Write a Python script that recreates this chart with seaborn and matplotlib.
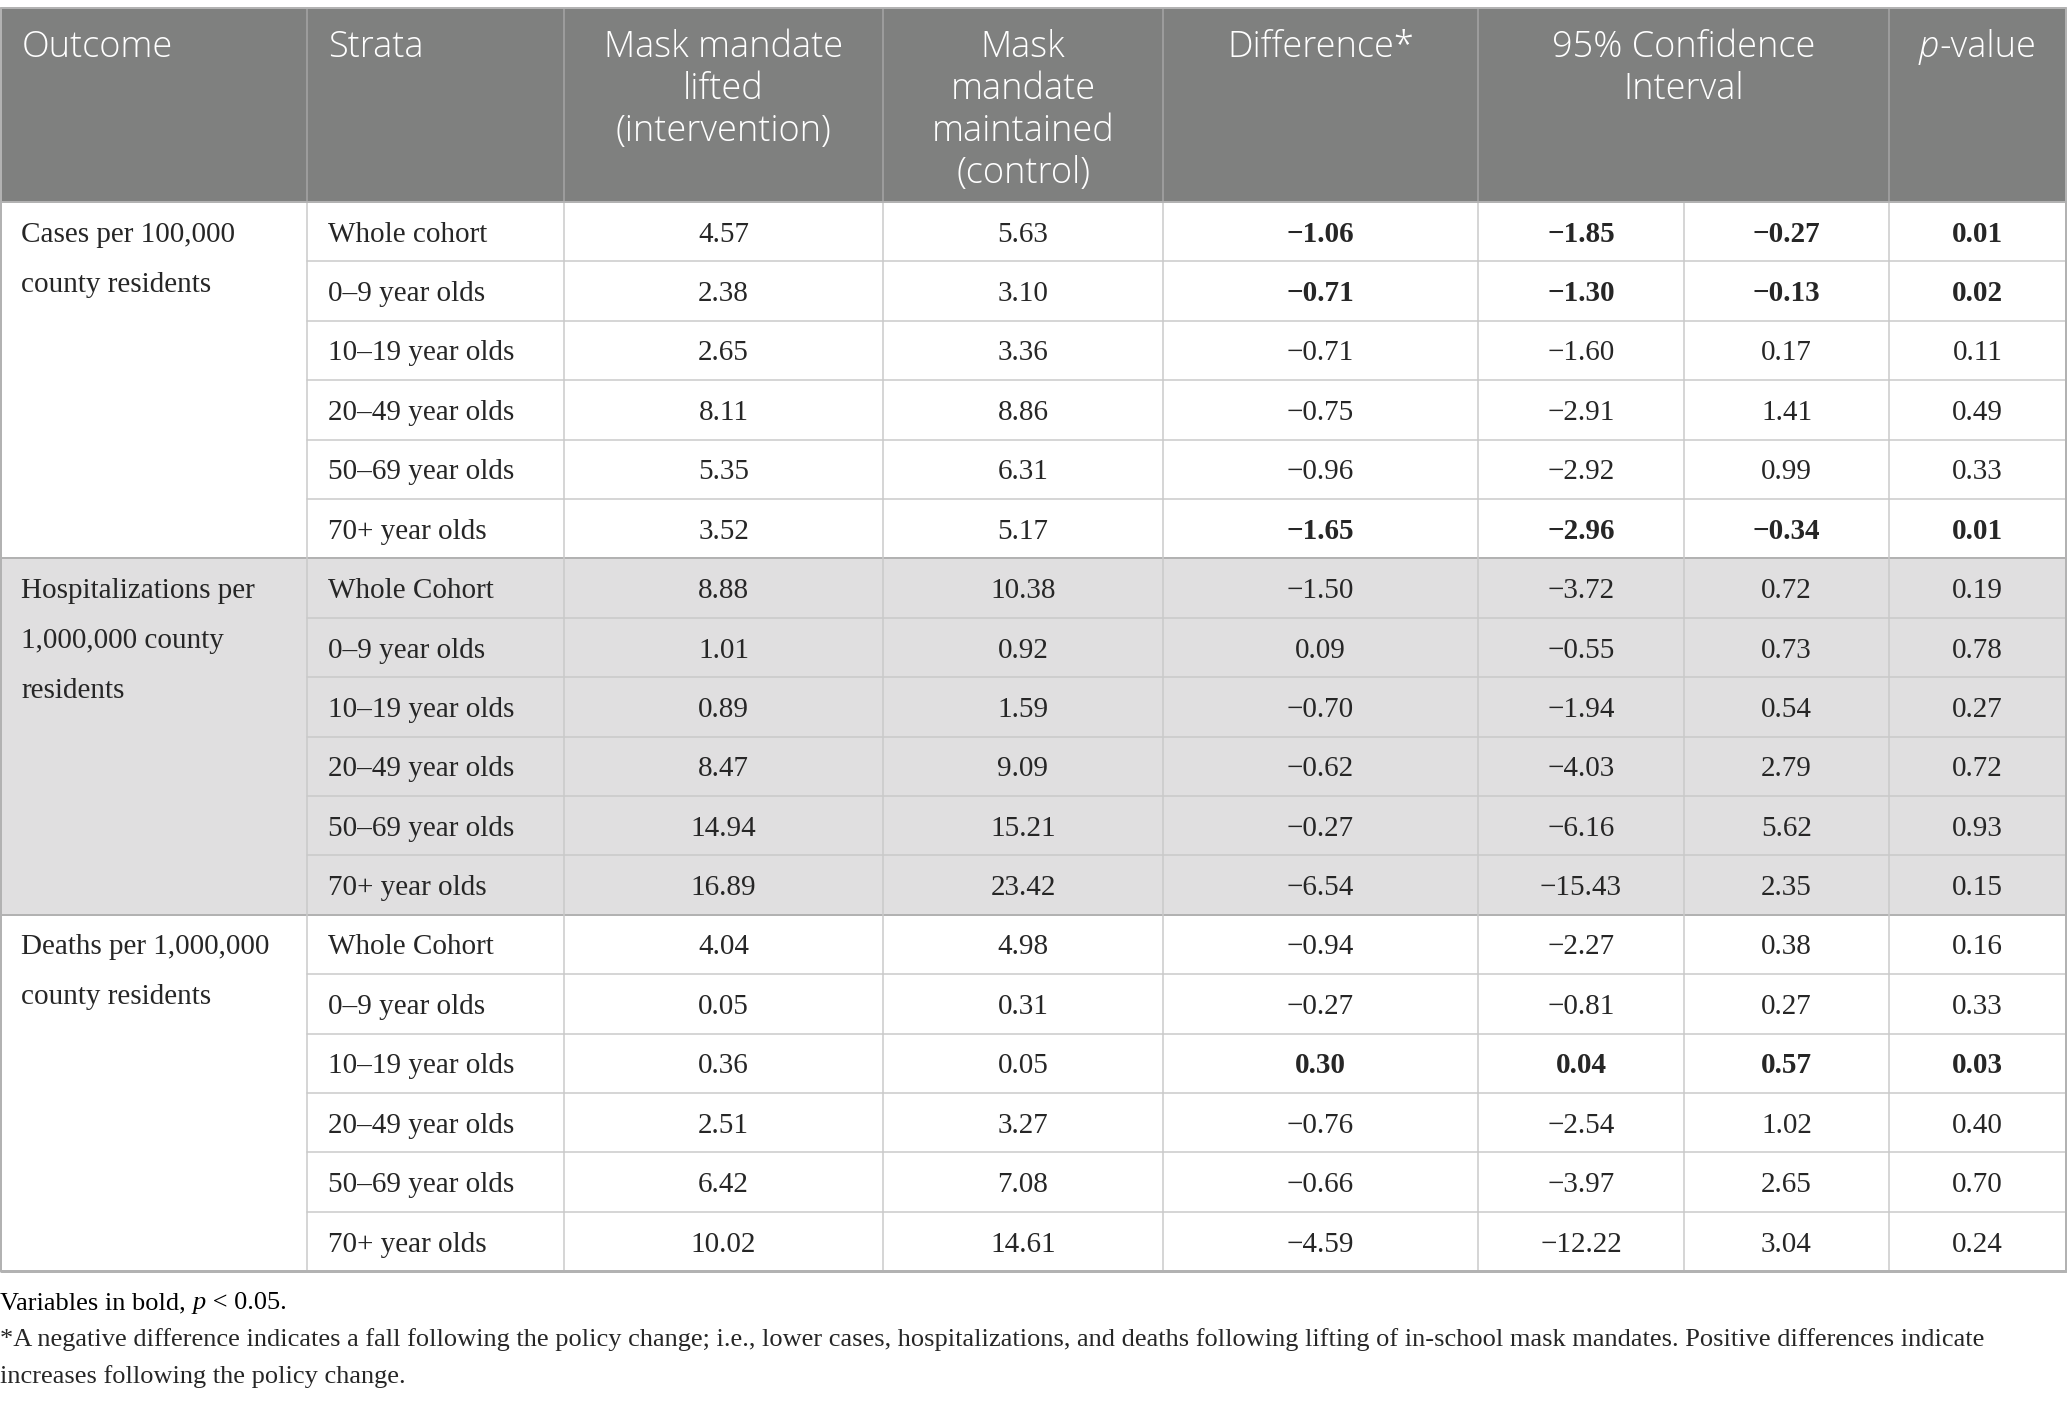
import numpy as np
import pandas as pd
import seaborn as sns
import matplotlib
matplotlib.use("Agg")
import matplotlib.pyplot as plt
from matplotlib.patches import Rectangle

# ---------------- data ----------------
outcomes = ["Cases per 100,000\ncounty residents",
            "Hospitalizations per\n1,000,000 county\nresidents",
            "Deaths per 1,000,000\ncounty residents"]
strata_cases = ["Whole cohort", "0–9 year olds", "10–19 year olds",
                "20–49 year olds", "50–69 year olds", "70+ year olds"]
strata_other = ["Whole Cohort", "0–9 year olds", "10–19 year olds",
                "20–49 year olds", "50–69 year olds", "70+ year olds"]

lifted = [4.57, 2.38, 2.65, 8.11, 5.35, 3.52,
          8.88, 1.01, 0.89, 8.47, 14.94, 16.89,
          4.04, 0.05, 0.36, 2.51, 6.42, 10.02]
maintained = [5.63, 3.10, 3.36, 8.86, 6.31, 5.17,
              10.38, 0.92, 1.59, 9.09, 15.21, 23.42,
              4.98, 0.31, 0.05, 3.27, 7.08, 14.61]
difference = [-1.06, -0.71, -0.71, -0.75, -0.96, -1.65,
              -1.50, 0.09, -0.70, -0.62, -0.27, -6.54,
              -0.94, -0.27, 0.30, -0.76, -0.66, -4.59]
ci_low = [-1.85, -1.30, -1.60, -2.91, -2.92, -2.96,
          -3.72, -0.55, -1.94, -4.03, -6.16, -15.43,
          -2.27, -0.81, 0.04, -2.54, -3.97, -12.22]
ci_high = [-0.27, -0.13, 0.17, 1.41, 0.99, -0.34,
           0.72, 0.73, 0.54, 2.79, 5.62, 2.35,
           0.38, 0.27, 0.57, 1.02, 2.65, 3.04]
p_values = [0.01, 0.02, 0.11, 0.49, 0.33, 0.01,
            0.19, 0.78, 0.27, 0.72, 0.93, 0.15,
            0.16, 0.33, 0.03, 0.40, 0.70, 0.24]

header_labels = ["Outcome", "Strata", "Mask mandate\nlifted\n(intervention)",
                 "Mask\nmandate\nmaintained\n(control)", "Difference*",
                 "95% Confidence\nInterval", None]
footnote_1 = [("Variables in bold, ", "normal"), ("p", "italic"), (" < 0.05.", "normal")]
footnote_2 = ("*A negative difference indicates a fall following the policy change; i.e., lower "
              "cases, hospitalizations, and deaths following lifting of in-school mask mandates. "
              "Positive differences indicate")
footnote_3 = "increases following the policy change."

strata = strata_cases + strata_other + strata_other
df = pd.DataFrame({"strata": strata, "lifted": lifted, "maintained": maintained,
                   "diff": difference, "lo": ci_low, "hi": ci_high, "p": p_values})
df["group"] = np.repeat(np.arange(3), 6)

# ---------------- style / layout ----------------
sns.set_theme(style="white")
SANS = ["Open Sans", "DejaVu Sans"]
SERIF = ["Liberation Serif", "DejaVu Serif"]
plt.rcParams["font.family"] = SERIF

W, H = 2067, 1402
fig = plt.figure(figsize=(W / 100, H / 100), dpi=100)
ax = fig.add_axes([0, 0, 1, 1])
ax.set_xlim(0, W)
ax.set_ylim(H, 0)
ax.axis("off")

col_edges = [1, 307, 564, 883, 1163, 1478, 1684, 1889, 2066]
table_top = 8
header_bottom = 202
row_h = 59.4
n_rows = len(df)
table_bottom = header_bottom + n_rows * row_h

header_color = "#7f807f"
band_color = "#e0dfe0"
line_light = "#c9c9c9"
line_dark = "#b2b2b2"
header_line = "#a6a6a6"

HEAD_FS = 26
HEAD_W = 300
BODY_FS = 21
FOOT_FS = 19

px = 0.72  # points per pixel


def fmt(v):
    s = f"{v:.2f}"
    return s.replace("-", "\u2212")


renderer = fig.canvas.get_renderer()


def draw_runs(x, y, runs, ha="left", family=SERIF, size=BODY_FS, color="black", weight="normal"):
    texts = []
    widths = []
    for t, st in runs:
        tx = ax.text(0, y, t, family=family, fontsize=size, style=st, color=color,
                     weight=weight, ha="left", va="baseline")
        texts.append(tx)
        widths.append(tx.get_window_extent(renderer).width)
    total = sum(widths)
    start = x - total / 2 if ha == "center" else x
    cur = start
    for tx, w in zip(texts, widths):
        tx.set_x(cur)
        cur += w


# header background
ax.add_patch(Rectangle((col_edges[0], table_top), col_edges[-1] - col_edges[0],
                       header_bottom - table_top, facecolor=header_color, edgecolor="none"))
# hospitalization band
ax.add_patch(Rectangle((col_edges[0], header_bottom + 6 * row_h), col_edges[-1] - col_edges[0],
                       6 * row_h, facecolor=band_color, edgecolor="none"))

# header text
head_base = 57
head_step = 42
for i, lab in enumerate(header_labels[:6]):
    if i <= 1:
        x0 = col_edges[i] + 21
        ha = "left"
    elif i == 5:
        x0 = (col_edges[5] + col_edges[7]) / 2
        ha = "center"
    else:
        x0 = (col_edges[i] + col_edges[i + 1]) / 2
        ha = "center"
    for j, line in enumerate(lab.split("\n")):
        ax.text(x0, table_top + head_base - 8 + j * head_step, line, family=SANS,
                fontsize=HEAD_FS, weight=HEAD_W, color="white", ha=ha, va="baseline")
draw_runs((col_edges[7] + col_edges[8]) / 2, table_top + head_base - 8,
          [("p", "italic"), ("-value", "normal")], ha="center", family=SANS,
          size=HEAD_FS, color="white", weight=HEAD_W)

# header vertical separators
for i in [1, 2, 3, 4, 5, 7]:
    ax.plot([col_edges[i], col_edges[i]], [table_top, header_bottom], color=header_line,
            lw=1.5 * px, solid_capstyle="butt")

# body lines
for r in range(1, n_rows):
    y = header_bottom + r * row_h
    if r % 6 == 0:
        ax.plot([col_edges[0], col_edges[-1]], [y, y], color=line_dark, lw=2 * px)
    else:
        ax.plot([col_edges[1], col_edges[-1]], [y, y], color=line_light, lw=1.5 * px)
for i in range(1, len(col_edges) - 1):
    ax.plot([col_edges[i], col_edges[i]], [header_bottom, table_bottom], color=line_light,
            lw=1.5 * px, solid_capstyle="butt")

# outer border
ax.plot([col_edges[0], col_edges[-1]], [table_top, table_top], color=line_dark, lw=2 * px)
ax.plot([col_edges[0], col_edges[-1]], [header_bottom, header_bottom], color=line_dark, lw=2 * px)
ax.plot([col_edges[0], col_edges[-1]], [table_bottom, table_bottom], color=line_dark, lw=3 * px)
ax.plot([col_edges[0], col_edges[0]], [table_top, table_bottom], color=line_dark, lw=2 * px)
ax.plot([col_edges[-1], col_edges[-1]], [table_top, table_bottom], color=line_dark, lw=2 * px)

# body text
base_off = 10
for g, lab in enumerate(outcomes):
    y0 = header_bottom + g * 6 * row_h + row_h / 2 + base_off
    for j, line in enumerate(lab.split("\n")):
        ax.text(col_edges[0] + 20, y0 + j * 50, line, fontsize=BODY_FS, ha="left",
                va="baseline")

for r, row in df.iterrows():
    y = header_bottom + r * row_h + row_h / 2 + base_off
    ax.text(col_edges[1] + 21, y, row["strata"], fontsize=BODY_FS, ha="left", va="baseline")
    sig = row["p"] < 0.05
    vals = [row["lifted"], row["maintained"], row["diff"], row["lo"], row["hi"], row["p"]]
    for c, v in enumerate(vals):
        cx = (col_edges[c + 2] + col_edges[c + 3]) / 2
        bold = sig and c >= 2
        ax.text(cx, y, fmt(v), fontsize=BODY_FS, ha="center", va="baseline",
                weight="bold" if bold else "normal")

# footnotes
draw_runs(0, 1309, footnote_1, size=FOOT_FS)
ax.text(0, 1346, footnote_2, fontsize=FOOT_FS, ha="left", va="baseline")
ax.text(0, 1383, footnote_3, fontsize=FOOT_FS, ha="left", va="baseline")

fig.savefig("out.png", dpi=100, facecolor="white")
